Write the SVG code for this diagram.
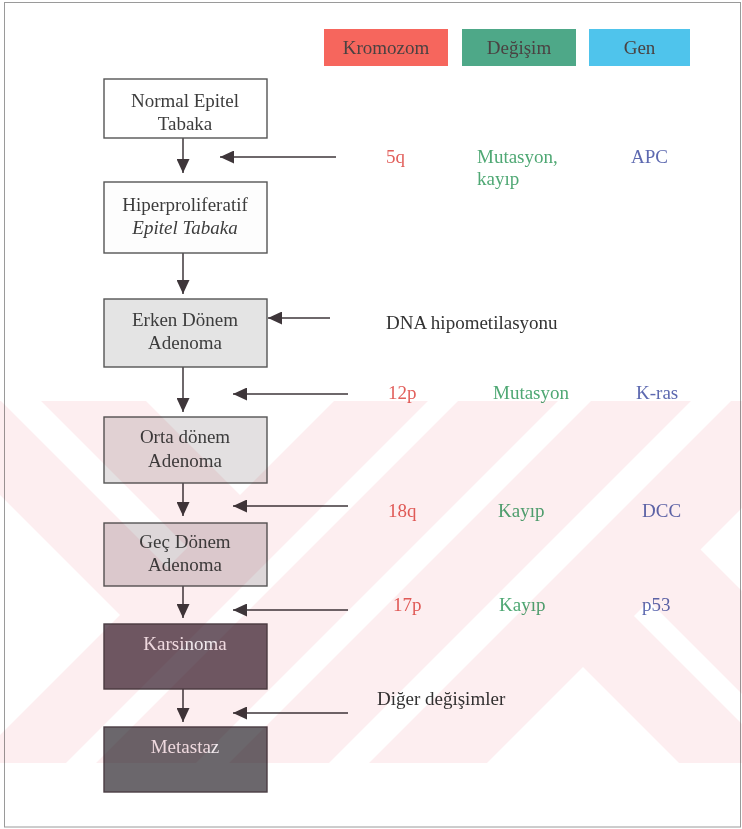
<svg xmlns="http://www.w3.org/2000/svg" width="742" height="829" viewBox="0 0 742 829">
<style>
text{font-family:"Liberation Serif","Times New Roman",serif;font-size:19px}
.box{stroke:#555;stroke-width:1.4}
.dark{stroke:#4a3e44;stroke-width:1.4}
.t{fill:#3c3c3c;text-anchor:middle}
.tw{fill:#f1e9ed;text-anchor:middle}
.leg{fill:#4a4242;text-anchor:middle}
.red{fill:#e2605c}
.grn{fill:#4fa874}
.blu{fill:#5d69b0}
.blk{fill:#333}
.con{stroke:#3e363a;stroke-width:1.5;fill:none;marker-end:url(#ah)}
</style>
<defs>
<marker id="ah" viewBox="0 0 14 13" refX="14" refY="6.5" markerWidth="14" markerHeight="13" markerUnits="userSpaceOnUse" orient="auto">
<path d="M0,0 L14,6.5 L0,13 z" fill="#3e363a"/>
</marker>
<mask id="wm" maskUnits="userSpaceOnUse" x="0" y="0" width="742" height="829">
<rect x="0" y="401" width="742" height="362" fill="#fff"/>
<g fill="#000">
<polygon points="0,495 120,615 0,735"/>
<polygon points="1,401 41,401 187.5,547.5 167.5,567.5"/>
<polygon points="146,401 334,401 240,495"/>
<polygon points="428,401 458,401 96,763 66,763"/>
<polygon points="558,401 591,401 229,763 196,763"/>
<polygon points="691,401 731,401 369,763 329,763"/>
<polygon points="700.5,549.5 742,508 742,591"/>
<polygon points="649,601 634,616 742,724 742,694"/>
<polygon points="583,667 487,763 679,763"/>
</g>
</mask>
</defs>
<rect x="0" y="0" width="742" height="829" fill="#fff"/>
<rect x="4.5" y="2.5" width="736" height="824.5" fill="none" stroke="#9a9a9a" stroke-width="1"/>

<g id="legend">
<g id="leg-kromozom"><rect x="324" y="29" width="124" height="37" fill="#f6665d"/><text class="leg" x="386" y="54">Kromozom</text></g>
<g id="leg-degisim"><rect x="462" y="29" width="114" height="37" fill="#4ea888"/><text class="leg" x="519" y="54">Değişim</text></g>
<g id="leg-gen"><rect x="589" y="29" width="101" height="37" fill="#4fc4ec"/><text class="leg" x="639.5" y="54">Gen</text></g>
</g>

<g id="connectors">
<line class="con" x1="183" y1="138" x2="183" y2="173"/>
<line class="con" x1="183" y1="253" x2="183" y2="294"/>
<line class="con" x1="183" y1="367" x2="183" y2="412"/>
<line class="con" x1="183" y1="483" x2="183" y2="516"/>
<line class="con" x1="183" y1="586" x2="183" y2="618"/>
<line class="con" x1="183" y1="689" x2="183" y2="722"/>
<line class="con" x1="336" y1="157" x2="220" y2="157"/>
<line class="con" x1="330" y1="318" x2="268" y2="318"/>
<line class="con" x1="348" y1="394" x2="233" y2="394"/>
<line class="con" x1="348" y1="506" x2="233" y2="506"/>
<line class="con" x1="348" y1="610" x2="233" y2="610"/>
<line class="con" x1="348" y1="713" x2="233" y2="713"/>
</g>

<g id="n-normal"><rect class="box" x="104" y="79" width="163" height="59" fill="#fff"/><text class="t" x="185" y="107">Normal Epitel</text><text class="t" x="185" y="130">Tabaka</text></g>
<g id="n-hiper"><rect class="box" x="104" y="182" width="163" height="71" fill="#fdfdfd"/><text class="t" x="185" y="211">Hiperproliferatif</text><text class="t" x="185" y="234" font-style="italic">Epitel Tabaka</text></g>
<g id="n-erken"><rect class="box" x="104" y="299" width="163" height="68" fill="#e4e4e4"/><text class="t" x="185" y="326">Erken Dönem</text><text class="t" x="185" y="349">Adenoma</text></g>
<g id="n-orta"><rect class="box" x="104" y="417" width="163" height="66" fill="#e3e0e1"/><text class="t" x="185" y="443">Orta dönem</text><text class="t" x="185" y="467">Adenoma</text></g>
<g id="n-gec"><rect class="box" x="104" y="523" width="163" height="63" fill="#ddd7d9"/><text class="t" x="185" y="548">Geç Dönem</text><text class="t" x="185" y="571">Adenoma</text></g>
<g id="n-karsinoma"><rect class="dark" x="104" y="624" width="163" height="65" fill="#6f5c67"/><text class="tw" x="185" y="650">Karsinoma</text></g>
<g id="n-metastaz"><rect class="dark" x="104" y="727" width="163" height="65" fill="#6b676c"/><text class="tw" x="185" y="753">Metastaz</text></g>

<g id="labels">
<text class="red" x="386" y="163">5q</text>
<text class="grn" x="477" y="163">Mutasyon,</text>
<text class="grn" x="477" y="185">kayıp</text>
<text class="blu" x="631" y="163">APC</text>
<text class="blk" x="386" y="329">DNA hipometilasyonu</text>
<text class="red" x="388" y="399">12p</text>
<text class="grn" x="493" y="399">Mutasyon</text>
<text class="blu" x="636" y="399">K-ras</text>
<text class="red" x="388" y="517">18q</text>
<text class="grn" x="498" y="517">Kayıp</text>
<text class="blu" x="642" y="517">DCC</text>
<text class="red" x="393" y="611">17p</text>
<text class="grn" x="499" y="611">Kayıp</text>
<text class="blu" x="642" y="611">p53</text>
<text class="blk" x="377" y="705">Diğer değişimler</text>
</g>

<rect id="watermark" x="0" y="401" width="742" height="362" fill="#fdeef0" mask="url(#wm)" style="mix-blend-mode:multiply"/>
</svg>
